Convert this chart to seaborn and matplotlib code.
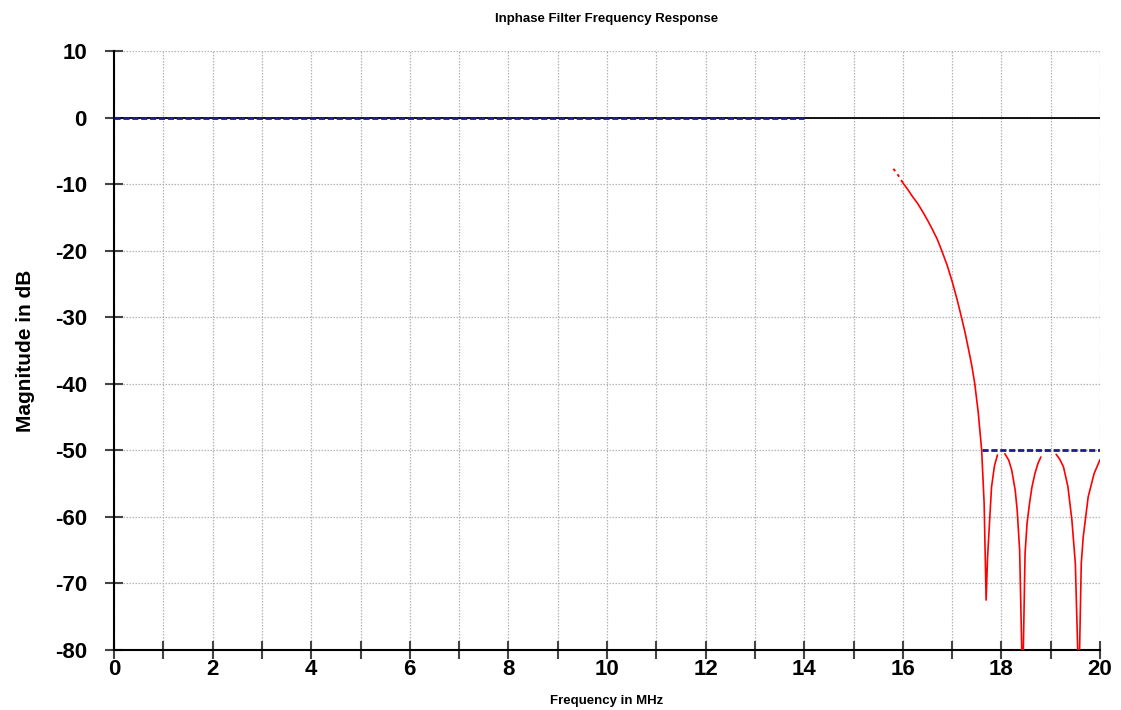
import numpy as np
import pandas as pd
import matplotlib
matplotlib.use("Agg")
import matplotlib.pyplot as plt
import seaborn as sns

# ---- data ----
title = "Inphase Filter Frequency Response"
xlabel = "Frequency in MHz"
ylabel = "Magnitude in dB"

x_ticks = [0, 2, 4, 6, 8, 10, 12, 14, 16, 18, 20]
y_ticks = [-80, -70, -60, -50, -40, -30, -20, -10, 0, 10]

# passband / stopband spec lines
pass_freq = [0.0, 14.0]
pass_mag = [0.0, 0.0]
stop_freq = [17.6, 20.0]
stop_mag = [-50.0, -50.0]

# measured response (red): sparse start, then three visible segments
start_freq = [15.81, 15.90, 16.00]
start_mag = [-7.7, -8.6, -9.8]
seg1_freq = [16.00, 16.10, 16.20, 16.30, 16.40, 16.50, 16.60, 16.70, 16.79,
             16.90, 17.00, 17.10, 17.19, 17.26, 17.33, 17.40, 17.46, 17.53,
             17.60, 17.65, 17.69, 17.72, 17.75, 17.80, 17.86, 17.92]
seg1_mag = [-9.8, -10.8, -11.9, -12.9, -14.1, -15.4, -16.8, -18.3, -20.0,
            -22.2, -24.6, -27.3, -30.0, -32.2, -34.7, -37.3, -40.0, -44.3,
            -50.0, -58.0, -72.5, -66.0, -62.0, -55.5, -52.3, -50.7]
seg2_freq = [18.07, 18.15, 18.21, 18.28, 18.32, 18.37, 18.43, 18.48, 18.52, 18.57, 18.62,
             18.68, 18.74, 18.80]
seg2_mag = [-50.5, -51.5, -53.0, -56.0, -59.0, -65.0, -86.0, -65.5, -61.0, -58.0, -55.5,
            -53.5, -52.0, -51.0]
seg3_freq = [19.11, 19.18, 19.26, 19.35, 19.43, 19.50, 19.57, 19.62, 19.66, 19.76, 19.88, 20.0]
seg3_mag = [-50.6, -51.3, -52.5, -55.5, -60.5, -67.0, -86.0, -67.0, -63.0, -57.0, -53.5, -51.4]

# ---- build tables ----
red = pd.concat([
    pd.DataFrame({"freq": seg1_freq, "mag": seg1_mag, "seg": 1}),
    pd.DataFrame({"freq": seg2_freq, "mag": seg2_mag, "seg": 2}),
    pd.DataFrame({"freq": seg3_freq, "mag": seg3_mag, "seg": 3}),
], ignore_index=True)
red_start = pd.DataFrame({"freq": start_freq, "mag": start_mag})
spec = pd.concat([
    pd.DataFrame({"freq": pass_freq, "mag": pass_mag, "seg": 1}),
    pd.DataFrame({"freq": stop_freq, "mag": stop_mag, "seg": 2}),
], ignore_index=True)

sns.set_style("white", {"xtick.bottom": True, "ytick.left": True,
                        "text.color": "black", "axes.labelcolor": "black",
                        "xtick.color": "black", "ytick.color": "black"})
plt.rcParams["font.family"] = ["Liberation Sans", "DejaVu Sans"]

fig = plt.figure(figsize=(11.21, 7.10), dpi=100)
ax = fig.add_axes([114 / 1121, 1 - 650 / 710, (1100 - 114) / 1121, (650 - 51) / 710])

ax.set_xlim(0, 20)
ax.set_ylim(-80, 10)

# grid
ax.set_xticks(np.arange(0, 21, 1))
ax.set_yticks(y_ticks)
ax.grid(True, which="major", color="#b4b4b4", linestyle=(0, (1.2, 1.2)), linewidth=0.9)
ax.set_axisbelow(True)

# zero line (black)
ax.axhline(0, color="black", linewidth=1.3, zorder=2)

sns.lineplot(data=spec, x="freq", y="mag", units="seg", estimator=None, ax=ax,
             color="#1c1c8a", linewidth=2.0, linestyle=(0, (2.2, 1.0)), zorder=3)
sns.lineplot(data=red_start, x="freq", y="mag", estimator=None, ax=ax,
             color="#ff0000", linewidth=1.4, linestyle=(0, (1.5, 2.0)), zorder=4)
sns.lineplot(data=red, x="freq", y="mag", units="seg", estimator=None, ax=ax,
             color="#ff0000", linewidth=1.2, zorder=4)

# spines
for s in ["top", "right"]:
    ax.spines[s].set_visible(False)
for s in ["left", "bottom"]:
    ax.spines[s].set_color("black")
    ax.spines[s].set_linewidth(1.5)

ax.set_xticklabels([str(v) if v % 2 == 0 else "" for v in range(0, 21)])
ax.set_yticklabels([str(v) for v in y_ticks])
ax.tick_params(axis="both", direction="inout", bottom=True, left=True,
               colors="black", width=1.5)
ax.tick_params(axis="x", color="#444444")
ax.tick_params(axis="y", color="#444444", length=13, pad=13, labelsize=16)
ax.tick_params(axis="x", length=13, pad=0, labelsize=16)
for lab in ax.get_xticklabels() + ax.get_yticklabels():
    lab.set_fontweight("bold")

ax.set_xlabel(xlabel, fontsize=9.5, fontweight="bold", labelpad=11)
ax.set_ylabel(ylabel, fontsize=15, fontweight="bold", labelpad=14)
ax.set_title(title, fontsize=9.5, fontweight="bold", pad=21)

fig.savefig("out.png", dpi=100)
